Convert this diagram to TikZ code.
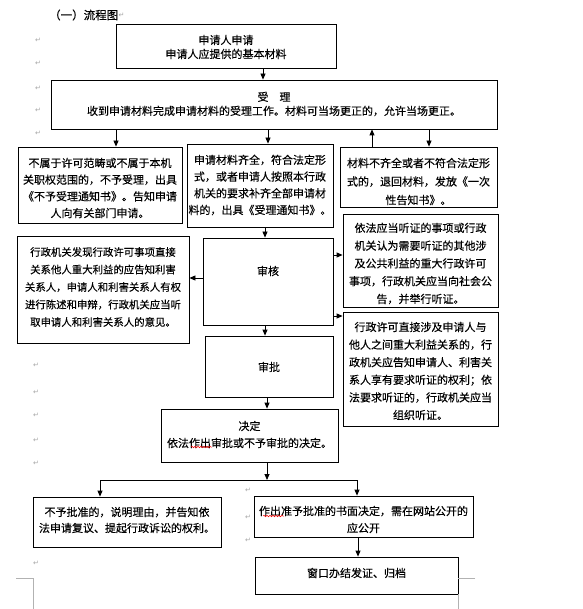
\documentclass[tikz,border=0pt]{standalone}
\usepackage{fontspec}
\setmainfont[FakeBold=0.3]{Noto Sans CJK SC}
\newfontfamily\djv{DejaVu Sans}
\usetikzlibrary{arrows.meta,decorations.pathmorphing}
\newcommand\fsz[1]{\fontsize{11}{#1}\selectfont}
\newcommand\fsm[1]{\fontsize{10.4}{#1}\selectfont}
\tikzset{
  box/.style={draw, line width=0.8pt, inner sep=0pt},
  txt/.style={align=center, inner sep=0pt},
  arr/.style={line width=0.8pt, -{Triangle[width=5pt,length=6pt]}},
  ln/.style={line width=0.8pt},
  pm/.style={font=\djv\fontsize{7}{7}\selectfont, text=gray!70, inner sep=0pt},
  crop/.style={draw=gray!60, line width=0.6pt},
  wavy/.style={draw=red, line width=0.5pt, decorate, decoration={snake, segment length=3pt, amplitude=0.8pt}},
}
\begin{document}
\begin{tikzpicture}[x=1pt,y=-1pt]
\fill[white] (0,0) rectangle (582,609);
\useasboundingbox (0,0) rectangle (582,609);

% title
\node[txt, font=\fontsize{11.5}{13}\selectfont, anchor=west] (title) at (49,15) {（一）流程图};
\node[pm, anchor=west] (pm0) at (title.east) {↵};

% paragraph marks
\foreach \y [count=\i] in {40,63,88,110,133} {\node[pm] (pmA\i) at (38,\y) {↵};}
\foreach \y [count=\i] in {365,392,415,440,463,563} {\node[pm] (pmB\i) at (36,\y) {↵};}
\foreach \y [count=\i] in {490,517,540} {\node[pm] (pmC\i) at (248,\y) {↵};}

% helper coordinates
\coordinate (x116) at (116,0);
\coordinate (x263) at (263,0);
\coordinate (x265) at (265,0);
\coordinate (x267) at (267,0);
\coordinate (x268) at (268,0);
\coordinate (x358) at (358,0);
\coordinate (x372) at (372,0);
\coordinate (x429) at (429,0);
\coordinate (y255) at (0,255);
\coordinate (y278) at (0,278);
\coordinate (y316) at (0,316);

% boxes
\node[box, minimum width=220pt, minimum height=44pt] (b1) at (226,46) {};
\node[box, minimum width=446pt, minimum height=49pt] (b2) at (274,104.5) {};
\node[box, minimum width=164pt, minimum height=76pt] (n3) at (100,185) {};
\node[box, minimum width=146pt, minimum height=83pt] (n4) at (260,185.5) {};
\node[box, minimum width=157pt, minimum height=60pt] (n5) at (418.5,177) {};
\node[box, minimum width=130pt, minimum height=87pt] (sh) at (268,281.5) {};
\node[box, minimum width=155pt, minimum height=93pt] (rA) at (420.5,260.5) {};
\node[box, minimum width=155pt, minimum height=114pt] (rB) at (420.5,369) {};
\node[box, minimum width=172pt, minimum height=107pt] (l2) at (103,289.5) {};
\node[box, minimum width=128pt, minimum height=61pt] (sp) at (269,366.5) {};
\node[box, minimum width=177pt, minimum height=53pt] (jd) at (249.5,435.5) {};
\node[box, minimum width=188pt, minimum height=50pt] (no) at (127,522) {};
\node[box, minimum width=219pt, minimum height=41pt] (yes) at (363.5,516.5) {};
\node[box, minimum width=203pt, minimum height=37pt] (last) at (356.5,575.5) {};

% texts
\node[txt, font=\fsz{14}] (b1t) at (226,47) {申请人申请\\申请人应提供的基本材料};
\node[txt, font=\fsz{14}] (b2t) at (274,104) {受\hspace{11pt}理\\收到申请材料完成申请材料的受理工作。材料可当场更正的，允许当场更正。};
\node[txt, font=\fsz{16.7}] (n3t) at (100,188) {不属于许可范畴或不属于本机\\关职权范围的，不予受理，出具\\《不予受理通知书》。告知申请\\人向有关部门申请。};
\node[txt, font=\fsz{16.7}] (n4t) at (260,185) {申请材料齐全，符合法定形\\式，或者申请人按照本行政\\机关的要求补齐全部申请材\\料的，出具《受理通知书》。};
\node[txt, font=\fsz{18.5}] (n5t) at (418.5,181.5) {材料不齐全或者不符合法定形\\式的，退回材料，发放《一次\\性告知书》。};
\node[txt, font=\fsz{14}] (sht) at (268,271) {审核};
\node[txt, font=\fsz{17.75}] (rAt) at (420.5,263.5) {依法应当听证的事项或行政\\机关认为需要听证的其他涉\\及公共利益的重大行政许可\\事项，行政机关应当向社会公\\告，并举行听证。};
\node[txt, font=\fsz{17.6}] (rBt) at (420.5,371) {行政许可直接涉及申请人与\\他人之间重大利益关系的，行\\政机关应告知申请人、利害关\\系人享有要求听证的权利；依\\法要求听证的，行政机关应当\\组织听证。};
\node[txt, font=\fsm{17.5}] (l2t) at (103,287) {行政机关发现行政许可事项直接\\关系他人重大利益的应告知利害\\关系人，申请人和利害关系人有权\\进行陈述和申辩，行政机关应当听\\取申请人和利害关系人的意见。};
\node[txt, font=\fsz{14}] (spt) at (269,367) {审批};
\node[txt, font=\fsz{17}] (jdt) at (249.5,434.5) {决定\\依法作出审批或不予审批的决定。};
\node[txt, font=\fsz{16}] (not) at (127,520) {不予批准的，说明理由，并告知依\\法申请复议、提起行政诉讼的权利。};
\node[txt, font=\fsz{17}] (yest) at (363.5,519.5) {作出准予批准的书面决定，需在网站公开的\\应公开};
\node[txt, font=\fsz{14}] (lastt) at (356.5,573) {窗口办结发证、归档};

% red wavy underlines
\draw[wavy] (191,447) -- (212,447);
\draw[wavy] (263,516) -- (284,516);

% connectors
\draw[arr] (b1.south -| x263) -- (b2.north -| x263);
\draw[arr] (b2.south -| x116) -- (n3.north -| x116);
\draw[arr] (b2.south -| x268) -- (n4.north -| x268);
\draw[arr] (n5.north -| x372) -- (b2.south -| x372);
\draw[arr] (b2.south -| x429) -- (n5.north -| x429);
\draw[arr] (n4.south -| x265) -- (sh.north -| x265);
\draw[arr] (sh.east |- y255) -- (rA.west |- y255);
\draw[arr] (sh.east |- y316) -- (rB.west |- y316);
\draw[arr] (sh.west |- y278) -- (l2.east |- y278);
\draw[arr] (sh.south -| x265) -- (sp.north -| x265);
\draw[arr] (sp.south -| x267) -- (jd.north -| x267);
\coordinate (jn) at (267,480);
\coordinate (jl) at (100,480);
\coordinate (jr) at (357,480);
\draw[arr] (jd.south -| jn) -- (jn);
\draw[ln] (jl) -- (jr);
\draw[arr] (jl) -- (no.north -| jl);
\draw[arr] (jr) -- (yes.north -| jr);
\draw[arr] (yes.south -| x358) -- (last.north -| x358);

% crop marks
\draw[crop] (16,578) -- (33,578) -- (33,609);
\draw[crop] (475,578) -- (458,578);
\draw[crop] (458,594) -- (458,609);
\end{tikzpicture}
\end{document}
